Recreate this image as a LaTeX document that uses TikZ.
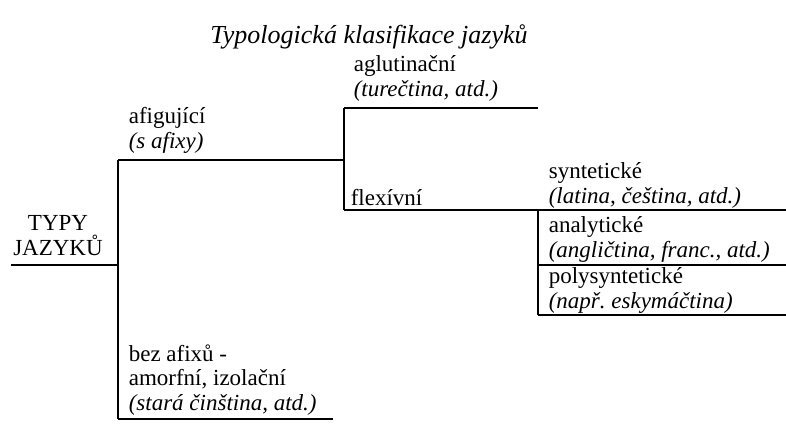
\documentclass[tikz,border=0pt]{standalone}
\usepackage{fontspec}
\setmainfont{Liberation Serif}
\usepackage{tikz}
\frenchspacing

\begin{document}
\begin{tikzpicture}[x=1pt, y=-1pt, line width=1.6pt,
  lbl/.style={anchor=base west, inner sep=0, align=left, font=\fontsize{23}{24.5}\selectfont}]
 \useasboundingbox (0,0) rectangle (786,431);
 \coordinate (root) at (11,265);
 \coordinate (fork) at (118,265);
 \coordinate (afigfork) at (118,160);
 \coordinate (bezfork) at (118,419);
 \coordinate (bezend) at (333,419);
 \coordinate (flexfork) at (344,160);
 \coordinate (aglfork) at (344,108);
 \coordinate (aglend) at (538,108);
 \coordinate (flexend) at (344,210);
 \coordinate (synend) at (786,210);
 \coordinate (anafork) at (538,210);
 \coordinate (anaend) at (538,265);
 \coordinate (anaright) at (786,265);
 \coordinate (polyend) at (538,315);
 \coordinate (polyright) at (786,315);
  \node [anchor=base, inner sep=0, font=\fontsize{26}{28}\selectfont\itshape] (title) at (369,43) {Typologická klasifikace jazyků};
  \node [lbl, anchor=base, align=center] (typy) at (58,255) {TYPY\\JAZYKŮ};
  \node [lbl] (afig) at (128,148) {afigující\\\textit{(s afixy)}};
  \node [lbl] (bez) at (128,410) {bez afixů -\\amorfní, izolační\\\textit{(stará činština, atd.)}};
  \node [lbl] (agl) at (353,96) {aglutinační\\\textit{(turečtina, atd.)}};
  \node [lbl] (flex) at (350,205) {flexívní};
  \node [lbl] (syn) at (548,203) {syntetické\\\textit{(latina, čeština, atd.)}};
  \node [lbl] (ana) at (548,257) {analytické\\\textit{(angličtina, franc., atd.)}};
  \node [lbl] (poly) at (548,308) {polysyntetické\\\textit{(např. eskymáčtina)}};
  \draw (root) -- (fork);
  \draw (afigfork) -- (bezfork);
  \draw (afigfork) -- (flexfork);
  \draw (bezfork) -- (bezend);
  \draw (aglfork) -- (flexend);
  \draw (aglfork) -- (aglend);
  \draw (flexend) -- (synend);
  \draw (anafork) -- (polyend);
  \draw (anaend) -- (anaright);
  \draw (polyend) -- (polyright);
\end{tikzpicture}
\end{document}
